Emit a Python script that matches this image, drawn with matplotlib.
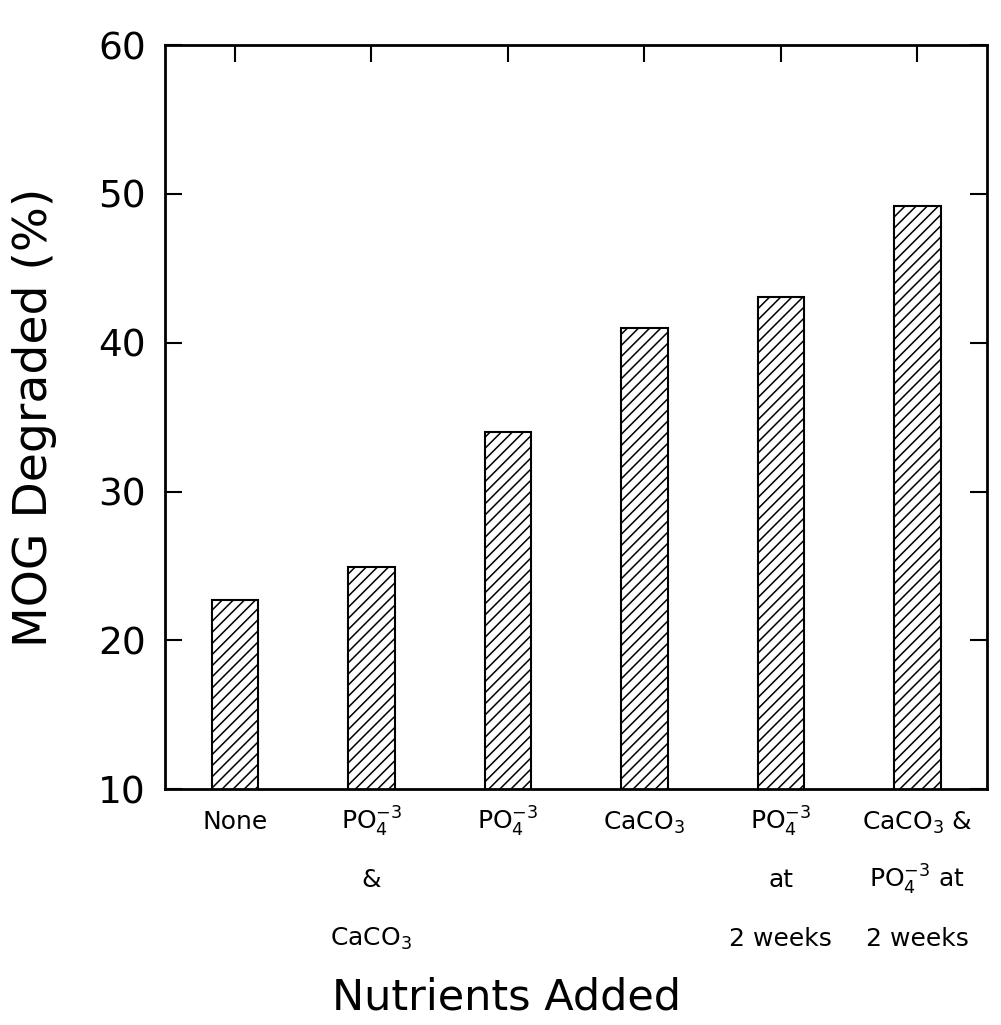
import matplotlib
matplotlib.use('Agg')
import matplotlib.pyplot as plt
import matplotlib.transforms as mtransforms
import numpy as np

# one list of text lines per nutrient treatment
nutrients = [['None'],
             ['PO$_4^{-3}$', '&', 'CaCO$_3$'],
             ['PO$_4^{-3}$'],
             ['CaCO$_3$'],
             ['PO$_4^{-3}$', 'at', '2 weeks'],
             ['CaCO$_3$ &', 'PO$_4^{-3}$ at', '2 weeks']]
degraded = [22.7, 24.9, 34.0, 41.0, 43.1, 49.2]
y_ticks = [10, 20, 30, 40, 50, 60]

plt.rcParams['font.family'] = ['DejaVu Sans']
plt.rcParams['mathtext.default'] = 'regular'
plt.rcParams['hatch.linewidth'] = 1.1
plt.rcParams['hatch.color'] = 'black'

fig = plt.figure(figsize=(10.01, 10.25), dpi=100)
ax = fig.add_axes([0.165, 0.23, 0.821, 0.726])

x = np.arange(len(degraded))
ax.bar(x, degraded, width=0.34, color='white', edgecolor='black',
       linewidth=1.5, hatch='///', zorder=2)

ax.set_xlim(-0.51, len(degraded) - 0.49)
ax.set_ylim(y_ticks[0], y_ticks[-1])
ax.set_yticks(y_ticks)
ax.set_xticks(x)
ax.set_xticklabels([])

for s in ax.spines.values():
    s.set_linewidth(2)

ax.tick_params(axis='both', direction='in', length=12, width=1.5,
               top=True, right=True, labelsize=27, pad=14)

# category names under the bars, each line on its own baseline
trans = mtransforms.blended_transform_factory(ax.transData, ax.transAxes)
first_line = -0.054
line_step = 0.078
for xi, lines in zip(x, nutrients):
    for i, line in enumerate(lines):
        ax.text(xi, first_line - i * line_step, line, transform=trans,
                ha='center', va='baseline', fontsize=18)

ax.set_ylabel('MOG Degraded (%)', fontsize=34)
ax.yaxis.set_label_coords(-0.132, 0.5)
ax.set_xlabel('Nutrients Added', fontsize=31)
ax.xaxis.set_label_coords(0.415, -0.252)

fig.savefig('out.png', dpi=100)
